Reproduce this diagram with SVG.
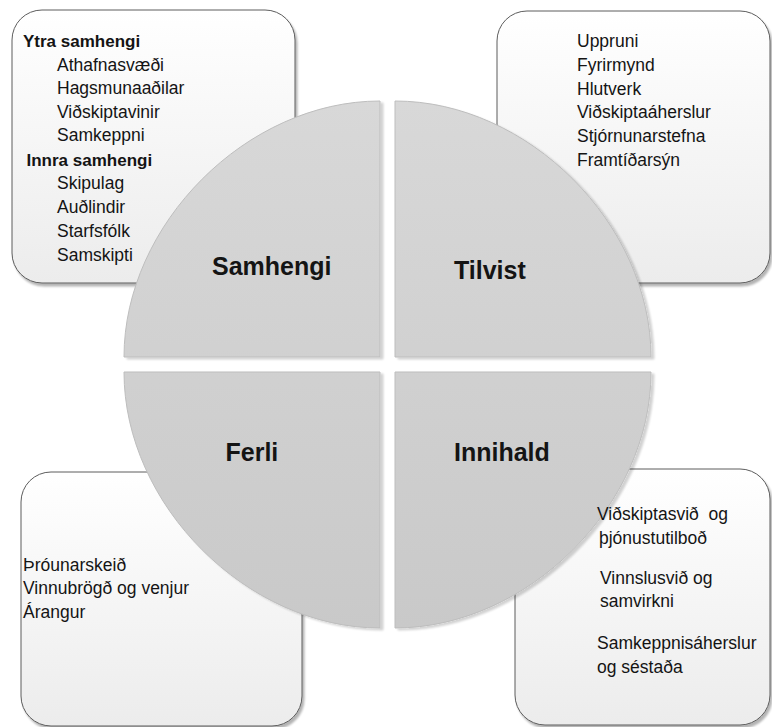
<svg xmlns="http://www.w3.org/2000/svg" width="772" height="727" viewBox="0 0 772 727">
  <defs>
    <linearGradient id="boxFill" x1="0" y1="0" x2="0" y2="1">
      <stop offset="0" stop-color="#ffffff"/>
      <stop offset="1" stop-color="#ececec"/>
    </linearGradient>
    <linearGradient id="quadFill" gradientUnits="userSpaceOnUse" x1="0" y1="101" x2="0" y2="628">
      <stop offset="0" stop-color="#d8d8d8"/>
      <stop offset="1" stop-color="#c9c9c9"/>
    </linearGradient>
    <filter id="boxShadow" x="-5%" y="-5%" width="112%" height="112%">
      <feGaussianBlur in="SourceAlpha" stdDeviation="1.2"/>
      <feOffset dx="2" dy="2.5" result="off"/>
      <feComponentTransfer><feFuncA type="linear" slope="0.3"/></feComponentTransfer>
      <feMerge><feMergeNode/><feMergeNode in="SourceGraphic"/></feMerge>
    </filter>
    <filter id="quadShadow" x="-5%" y="-5%" width="112%" height="112%">
      <feGaussianBlur in="SourceAlpha" stdDeviation="1.2"/>
      <feOffset dx="2.5" dy="2" result="off"/>
      <feComponentTransfer><feFuncA type="linear" slope="0.18"/></feComponentTransfer>
      <feMerge><feMergeNode/><feMergeNode in="SourceGraphic"/></feMerge>
    </filter>
  </defs>
  <style>
    .box { fill: url(#boxFill); stroke: #5c5c5c; stroke-width: 1; filter: url(#boxShadow); }
    .quad { fill: url(#quadFill); stroke: #bdbdbd; stroke-width: 1; filter: url(#quadShadow); }
    text { font-family: "Liberation Sans", Arial, sans-serif; fill: #141414; }
    .item { font-size: 17.5px; }
    .head { font-size: 17px; font-weight: bold; }
    .title { font-size: 25px; font-weight: bold; }
  </style>

  <!-- detail boxes (behind the disc) -->
  <g id="samhengi-details">
    <rect class="box" x="12" y="10" width="283" height="273" rx="30" ry="30"/>
    <text class="head" x="23" y="47">Ytra samhengi</text>
    <text class="item" x="57" y="71">Athafnasvæði</text>
    <text class="item" x="57" y="94">Hagsmunaaðilar</text>
    <text class="item" x="57" y="117.5">Viðskiptavinir</text>
    <text class="item" x="57" y="141">Samkeppni</text>
    <text class="head" x="26.5" y="165.5">Innra samhengi</text>
    <text class="item" x="57" y="189">Skipulag</text>
    <text class="item" x="57" y="213">Auðlindir</text>
    <text class="item" x="57" y="237">Starfsfólk</text>
    <text class="item" x="57" y="261">Samskipti</text>
  </g>

  <g id="tilvist-details">
    <rect class="box" x="497" y="11" width="273" height="272" rx="30" ry="30"/>
    <text class="item" x="577" y="47">Uppruni</text>
    <text class="item" x="577" y="71">Fyrirmynd</text>
    <text class="item" x="577" y="94.5">Hlutverk</text>
    <text class="item" x="577" y="118">Viðskiptaáherslur</text>
    <text class="item" x="577" y="142">Stjórnunarstefna</text>
    <text class="item" x="577" y="166">Framtíðarsýn</text>
  </g>

  <g id="ferli-details">
    <rect class="box" x="21" y="472" width="281" height="254" rx="30" ry="30"/>
    <text class="item" x="23" y="571">Þróunarskeið</text>
    <text class="item" x="23" y="594">Vinnubrögð og venjur</text>
    <text class="item" x="23" y="617.5">Árangur</text>
  </g>

  <g id="innihald-details-box">
    <rect class="box" x="515" y="469" width="255" height="256" rx="30" ry="30"/>
  </g>

  <!-- four quadrants of the central disc -->
  <g id="samhengi">
    <path class="quad" d="M380 357 L124 357 C124 224 247 101 380 101 Z"/>
    <text class="title" x="212" y="275">Samhengi</text>
  </g>
  <g id="tilvist">
    <path class="quad" d="M395 357 L395 101 C528 101 651 224 651 357 Z"/>
    <text class="title" x="454" y="278.5">Tilvist</text>
  </g>
  <g id="ferli">
    <path class="quad" d="M380 372 L380 628 C247 628 124 505 124 372 Z"/>
    <text class="title" x="225.5" y="460.5">Ferli</text>
  </g>
  <g id="innihald">
    <path class="quad" d="M395 372 L651 372 C651 505 528 628 395 628 Z"/>
    <text class="title" x="454" y="460.5">Innihald</text>
  </g>

  <!-- list text of the lower-right box, kept above the disc edge -->
  <g id="innihald-details">
    <text class="item" x="597" y="520" xml:space="preserve">Viðskiptasvið  og</text>
    <text class="item" x="599" y="543.5">þjónustutilboð</text>
    <text class="item" x="600" y="583.5">Vinnslusvið og</text>
    <text class="item" x="600" y="607">samvirkni</text>
    <text class="item" x="597" y="649">Samkeppnisáherslur</text>
    <text class="item" x="597" y="672.5">og séstaða</text>
  </g>
</svg>
